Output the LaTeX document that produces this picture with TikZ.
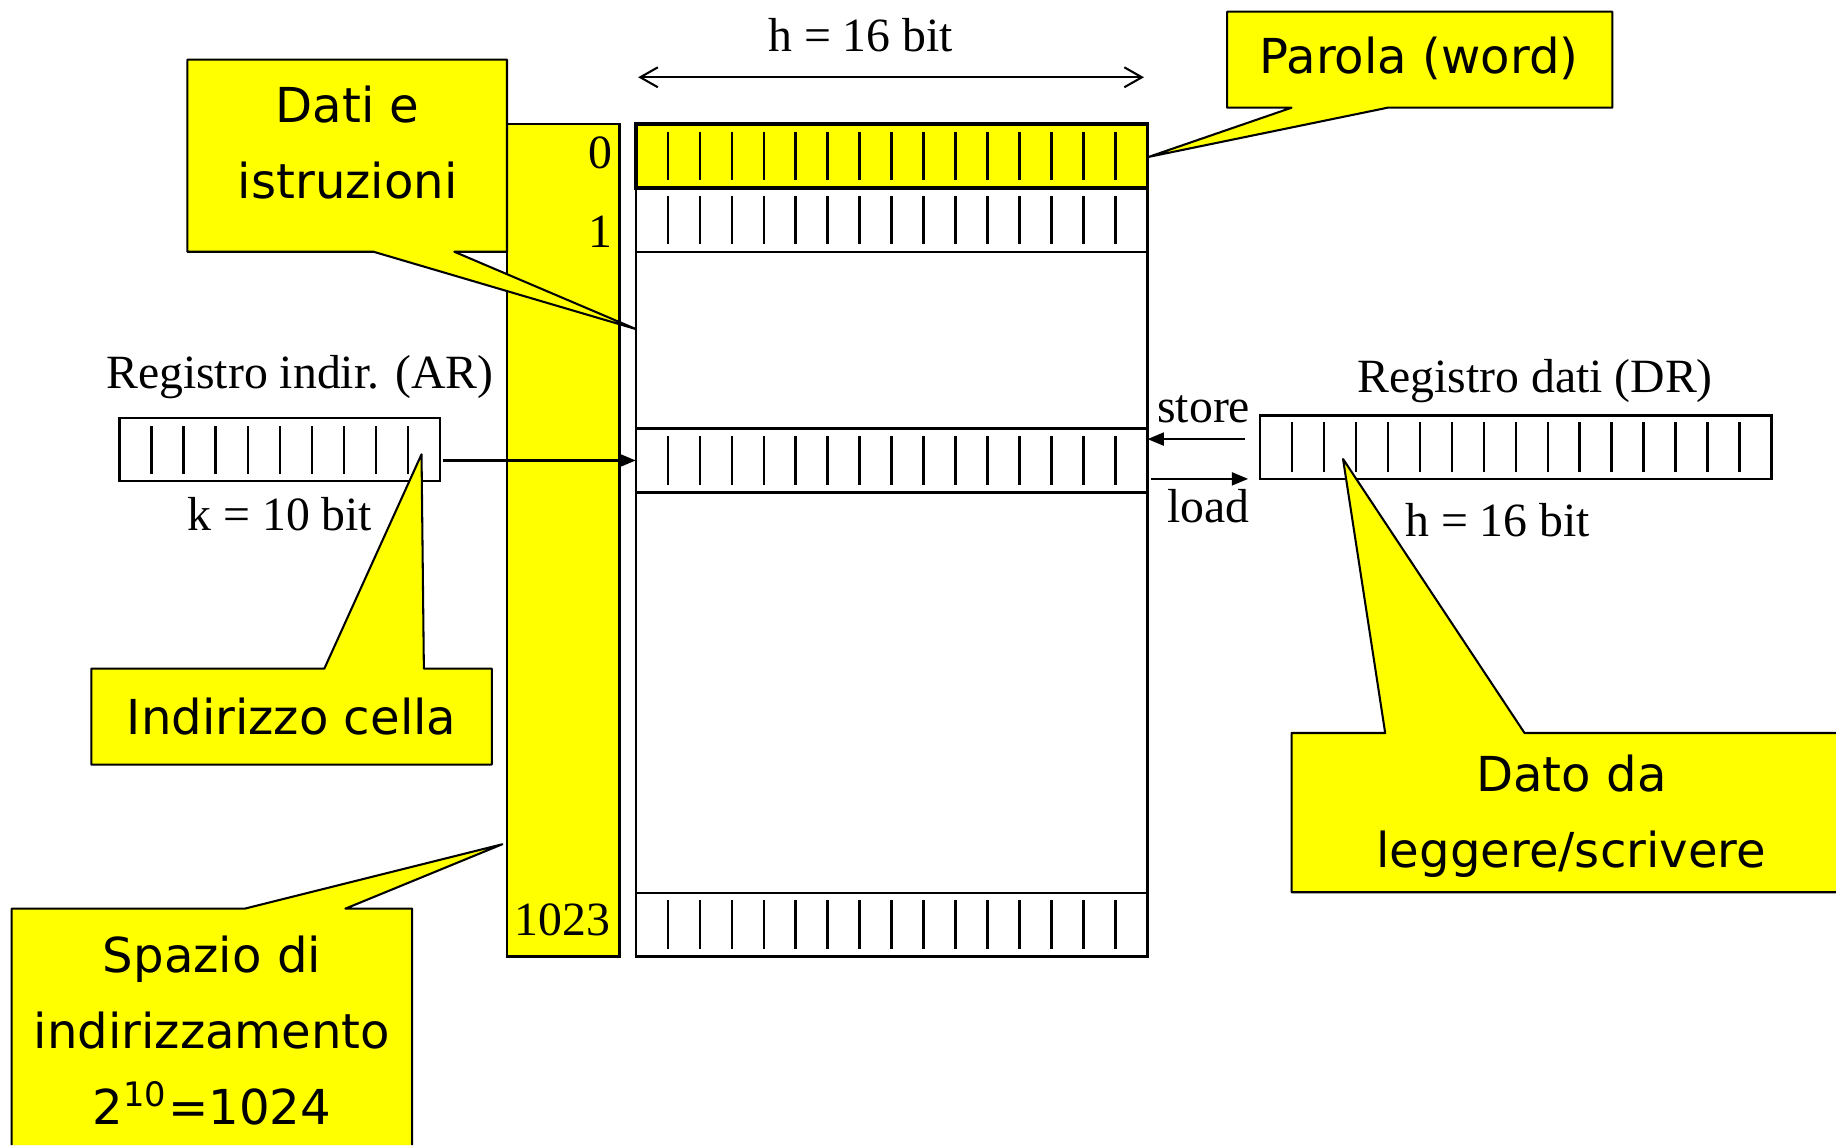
\documentclass[tikz,border=0pt]{standalone}
\usepackage{fontspec}
\setmainfont{Liberation Serif}
\newfontfamily\notafont{DejaVu Sans}
\usepackage{tikz}
\usetikzlibrary{calc, positioning, arrows.meta}

\definecolor{giallo}{RGB}{255,255,0}

\tikzset{
    cella/.style={draw, line width=0.6pt, inner sep=0pt, outer sep=0pt,
        minimum width=43.7mm, minimum height=5.45mm},
    registro/.style={draw, line width=0.6pt, inner sep=0pt, outer sep=0pt,
        minimum height=5.4mm},
    tacca/.style={line width=0.6pt},
    nota/.style={draw, fill=giallo, line width=0.5pt, line join=round},
    testonota/.style={font=\notafont\fontsize{11.7}{18.5}\selectfont, align=center, inner sep=0pt},
    etichetta/.style={font=\fontsize{11.6}{14}\selectfont, inner sep=0pt},
    freccia/.style={line width=0.6pt, -{Triangle[length=1.4mm, width=1.1mm]}},
}

\begin{document}
\begin{tikzpicture}[x=0.1mm, y=-0.1mm]
    \useasboundingbox (0,0) rectangle (1568,978);

    % colonna degli indirizzi
    \node[draw, fill=giallo, line width=0.6pt, inner sep=0pt, outer sep=0pt, anchor=north west,
        minimum width=9.6mm, minimum height=71.1mm] (indirizzi) at (433,106) {};
    \node[etichetta, anchor=base east] (i0) at (524,144) {0};
    \node[etichetta, anchor=base east] (i1) at (524,211) {1};
    \node[etichetta, anchor=base east] (i1023) at (522,799) {1023};

    % memoria (parole da 16 bit)
    \draw[line width=0.6pt] (543,106) rectangle (980,817);
    \node[cella, fill=giallo, line width=0.9pt, anchor=north west] (r0) at (543,106) {};
    \node[cella, below=0pt of r0] (r1) {};
    \node[cella, anchor=north west] (rm) at (543,366) {};
    \node[cella, anchor=south west] (rn) at (543,817) {};
    \foreach \r in {r0, r1, rm, rn}
        \foreach \k in {1,...,15}
            \draw[tacca] ($(\r.north west)!{\k/16}!(\r.north east)$) ++(0,6.5) -- ++(0,41.5);

    % larghezza della parola
    \coordinate (hsx) at (545,66);
    \coordinate (hdx) at (977,66);
    \draw[line width=0.5pt, {Straight Barb[length=1.5mm, width=1.7mm]}-{Straight Barb[length=1.5mm, width=1.7mm]}] (hsx) -- (hdx);
    \node[etichetta, anchor=base] (hmem) at (735,44) {h = 16 bit};

    % registro indirizzi
    \node[registro, minimum width=27.4mm, anchor=north west] (ar) at (102,357) {};
    \foreach \k in {1,...,9}
        \draw[tacca] ($(ar.north west)!{\k/10}!(ar.north east)$) ++(0,7) -- ++(0,41);
    \node[etichetta, anchor=base] (arnome) at (256,332) {Registro indir. (AR)};
    \node[etichetta, anchor=base] (arbit) at (239,453) {k = 10 bit};
    \draw[freccia] ($(ar.east |- rm.west)+(2,0)$) -- (rm.west);

    % registro dati
    \node[registro, minimum width=43.7mm, anchor=north west] (dr) at (1076,355) {};
    \foreach \k in {1,...,15}
        \draw[tacca] ($(dr.north west)!{\k/16}!(dr.north east)$) ++(0,5.5) -- ++(0,42.5);
    \node[etichetta, anchor=base] (drnome) at (1311,335) {Registro dati (DR)};
    \node[etichetta, anchor=base] (drbit) at (1279,458) {h = 16 bit};

    % store / load
    \coordinate (st) at (1063,375);
    \coordinate (ld) at (1066,409);
    \draw[freccia] (st) -- (st -| rm.east);
    \draw[freccia] ($(ld -| rm.east)+(3,0)$) -- (ld);
    \node[etichetta, anchor=base] (store) at (1028,361) {store};
    \node[etichetta, anchor=base] (load) at (1032,446) {load};

    % fumetti
    \draw[nota] (160,51) -- (433,51) -- (433,215) -- (388,215) -- (543,281)
        -- (319,215) -- (160,215) -- cycle;
    \node[testonota] (dati) at (297,122) {Dati e\\istruzioni};

    \draw[nota] (1048,10) -- (1377,10) -- (1377,92) -- (1185,92) -- (981,134)
        -- (1103,92) -- (1048,92) -- cycle;
    \node[testonota] (parola) at (1212,50) {Parola (word)};

    \draw[nota] (78,571) -- (277,571) -- (360,388) -- (362,571) -- (420,571)
        -- (420,653) -- (78,653) -- cycle;
    \node[testonota] (cella) at (249,612) {Indirizzo cella};

    \draw[nota] (10,978) -- (10,776) -- (209,776) -- (429,721) -- (295,776)
        -- (352,776) -- (352,978);
    \node[testonota] (spazio) at (181,880) {Spazio di\\indirizzamento\\2\textsuperscript{10}=1024};

    \draw[nota] (1568,626) -- (1302,626) -- (1147,392) -- (1183,626) -- (1103,626)
        -- (1103,762) -- (1568,762);
    \node[testonota] (dato) at (1342,697) {Dato da\\leggere/scrivere};
\end{tikzpicture}
\end{document}
